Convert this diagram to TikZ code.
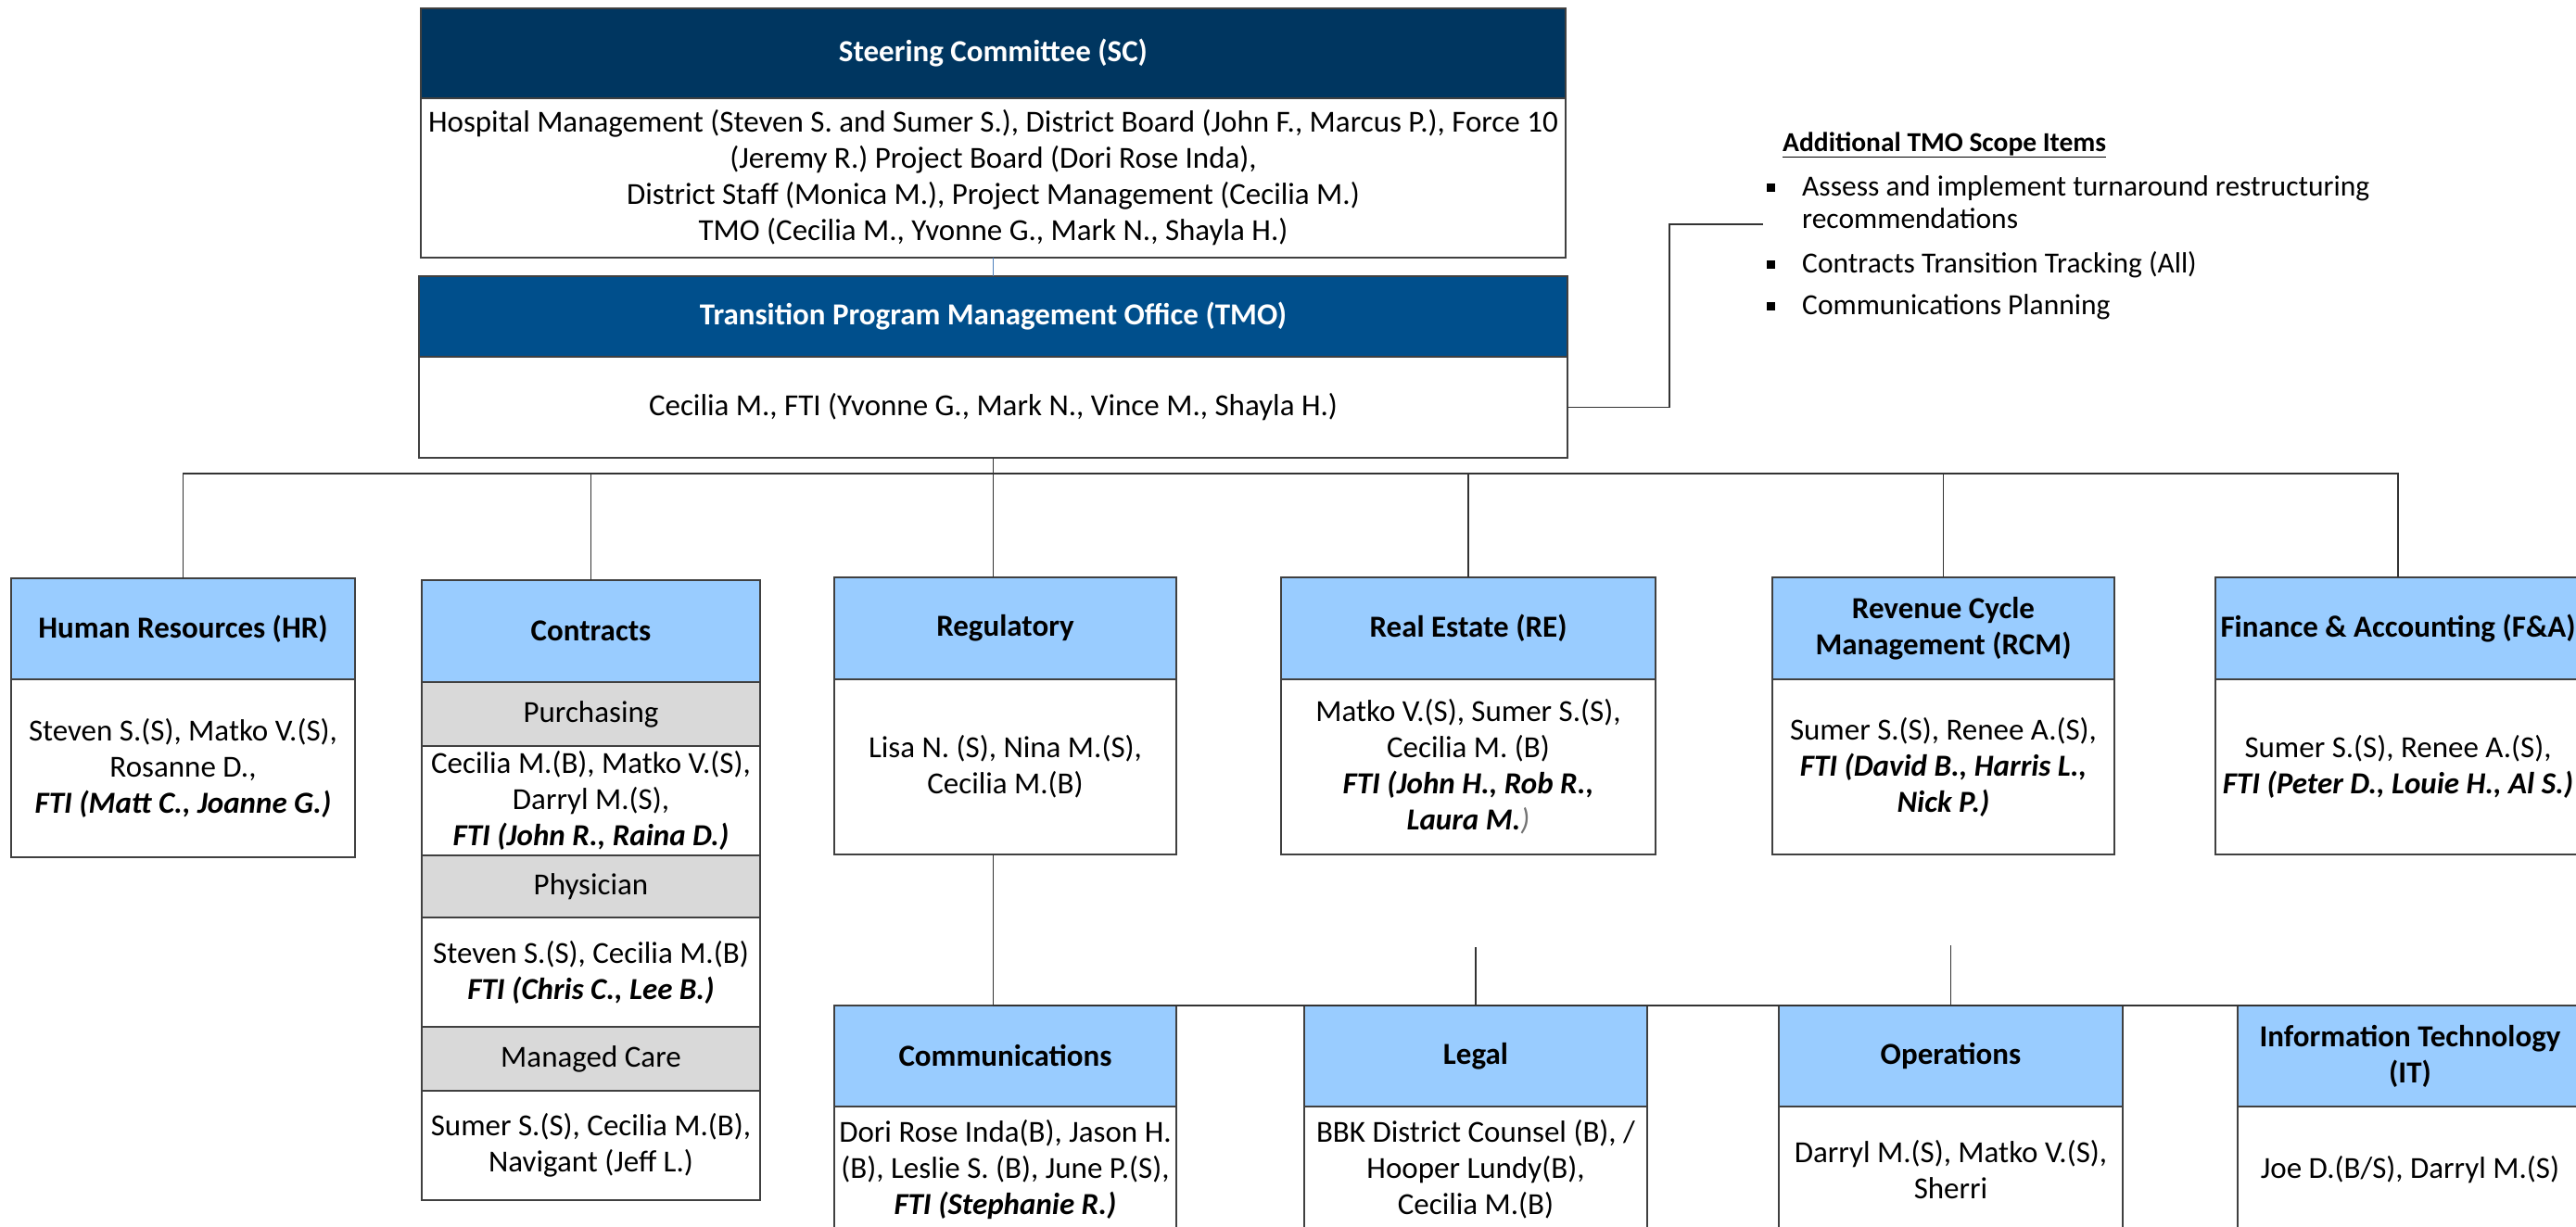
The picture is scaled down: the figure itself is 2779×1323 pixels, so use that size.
\documentclass[tikz,border=0pt]{standalone}
\usepackage{fontspec}
\setmainfont{Carlito}
\usetikzlibrary{positioning}

\definecolor{scnavy}{HTML}{003660}
\definecolor{tmoblue}{HTML}{004F8C}
\definecolor{deptblue}{HTML}{99CCFF}
\definecolor{subgray}{HTML}{D9D9D9}
\definecolor{linkblue}{HTML}{4F81BD}

\newcommand{\fti}[1]{\textbf{\textit{#1}}}
\newcommand{\sqbul}{\makebox[38pt][l]{\rule[4pt]{9pt}{9pt}}}

\begin{document}
\begin{tikzpicture}[x=1pt,y=-1pt,
  orgbox/.style={draw=black!75,line width=1.3pt,outer sep=0pt,inner sep=2pt,
                 align=center,font=\fontsize{33}{39}\selectfont},
  schead/.style={orgbox,fill=scnavy,text=white,font=\fontsize{33}{39}\selectfont\bfseries},
  tmohead/.style={orgbox,fill=tmoblue,text=white,font=\fontsize{33}{39}\selectfont\bfseries},
  depthead/.style={orgbox,fill=deptblue,anchor=north,font=\fontsize{33}{39}\selectfont\bfseries},
  subhead/.style={orgbox,fill=subgray},
  members/.style={orgbox,fill=white},
  link/.style={draw=black!80,line width=1.3pt},
]

\useasboundingbox (0,0) rectangle (2779,1323);
\fill[white] (0,0) rectangle (2779,1323);

% Steering committee
\node[schead,anchor=north west,minimum width=1235,minimum height=97] (sc) at (454,9)
  {Steering Committee (SC)};
\node[members,below=0pt of sc,minimum width=1235,minimum height=172] (scbody)
  {Hospital Management (Steven S. and Sumer S.), District Board (John F., Marcus P.), Force 10\\
   (Jeremy R.) Project Board (Dori Rose Inda),\\
   District Staff (Monica M.), Project Management (Cecilia M.)\\
   TMO (Cecilia M., Yvonne G., Mark N., Shayla H.)};

% TMO
\node[tmohead,anchor=north west,minimum width=1239,minimum height=87] (tmo) at (452,298)
  {Transition Program Management Office (TMO)};
\node[members,below=0pt of tmo,minimum width=1239,minimum height=109] (tmobody)
  {Cecilia M., FTI (Yvonne G., Mark N., Vince M., Shayla H.)};

% Scope items
\node[anchor=west,inner sep=0pt,font=\fontsize{29.5}{35}\selectfont\bfseries] (scope) at (1923,156)
  {\underline{Additional TMO Scope Items}};
\node[anchor=north west,inner sep=0pt,align=left,font=\fontsize{31.5}{35}\selectfont] (scopeitems) at (1906,189)
  {\sqbul Assess and implement turnaround restructuring\\
   \hspace*{38pt}recommendations\\[13pt]
   \sqbul Contracts Transition Tracking (All)\\[10pt]
   \sqbul Communications Planning};
\coordinate (scopetap) at (1902,242);

% Departments, first row
\node[depthead,minimum width=371,minimum height=109] (hr) at (197.5,624) {Human Resources (HR)};
\node[members,below=0pt of hr,minimum width=371,minimum height=192] (hrbody)
  {Steven S.(S), Matko V.(S),\\Rosanne D.,\\\fti{FTI (Matt C., Joanne G.)}};

\node[depthead,minimum width=365,minimum height=110] (contracts) at (637.5,626) {Contracts};
\node[subhead,below=0pt of contracts,minimum width=365,minimum height=69] (purch) {Purchasing};
\node[members,below=0pt of purch,minimum width=365,minimum height=118] (purchbody)
  {Cecilia M.(B), Matko V.(S),\\Darryl M.(S),\\\fti{FTI (John R., Raina D.)}};
\node[subhead,below=0pt of purchbody,minimum width=365,minimum height=67] (phys) {Physician};
\node[members,below=0pt of phys,minimum width=365,minimum height=118] (physbody)
  {Steven S.(S), Cecilia M.(B)\\\fti{FTI (Chris C., Lee B.)}};
\node[subhead,below=0pt of physbody,minimum width=365,minimum height=69] (mc) {Managed Care};
\node[members,below=0pt of mc,minimum width=365,minimum height=118] (mcbody)
  {Sumer S.(S), Cecilia M.(B),\\Navigant (Jeff L.)};

\node[depthead,minimum width=369,minimum height=110] (reg) at (1084.5,623) {Regulatory};
\node[members,below=0pt of reg,minimum width=369,minimum height=189] (regbody)
  {Lisa N. (S), Nina M.(S),\\Cecilia M.(B)};

\node[depthead,minimum width=404,minimum height=110] (re) at (1584,623) {Real Estate (RE)};
\node[members,below=0pt of re,minimum width=404,minimum height=189] (rebody)
  {Matko V.(S), Sumer S.(S),\\Cecilia M. (B)\\\fti{FTI (John H., Rob R.,}\\\fti{Laura M.}\textcolor{black!55}{\textit{)}}};

\node[depthead,minimum width=369,minimum height=110] (rcm) at (2096.5,623) {Revenue Cycle\\Management (RCM)};
\node[members,below=0pt of rcm,minimum width=369,minimum height=189] (rcmbody)
  {Sumer S.(S), Renee A.(S),\\\fti{FTI (David B., Harris L.,}\\\fti{Nick P.)}};

\node[depthead,minimum width=394,minimum height=110] (fa) at (2587,623) {Finance \& Accounting (F\&A)};
\node[members,below=0pt of fa,minimum width=394,minimum height=189] (fabody)
  {Sumer S.(S), Renee A.(S),\\\fti{FTI (Peter D., Louie H., Al S.)}};

% Departments, second row
\node[depthead,minimum width=369,minimum height=109] (comm) at (1084.5,1085) {Communications};
\node[members,below=0pt of comm,minimum width=369,minimum height=136] (commbody)
  {Dori Rose Inda(B), Jason H.\\(B), Leslie S. (B), June P.(S),\\\fti{FTI (Stephanie R.)}};

\node[depthead,minimum width=370,minimum height=109] (legal) at (1592,1085) {Legal};
\node[members,below=0pt of legal,minimum width=370,minimum height=136] (legalbody)
  {BBK District Counsel (B), /\\Hooper Lundy(B),\\Cecilia M.(B)};

\node[depthead,minimum width=371,minimum height=109] (ops) at (2104.5,1085) {Operations};
\node[members,below=0pt of ops,minimum width=371,minimum height=136] (opsbody)
  {Darryl M.(S), Matko V.(S),\\Sherri};

\node[depthead,minimum width=372,minimum height=109] (it) at (2600,1085) {Information Technology\\(IT)};
\node[members,below=0pt of it,minimum width=372,minimum height=136] (itbody)
  {Joe D.(B/S), Darryl M.(S)};

% Connectors
\draw[draw=linkblue,line width=1.3pt] (scbody.south) -- (tmo.north);
\draw[link] (tmobody.east) -- ++(110,0) |- (scopetap);
\draw[link] (tmobody.south) -- (tmobody.south |- reg.north);
\draw[link] (hr.north) -- ++(0,-113) -| (fa.north);
\foreach \d in {contracts,re,rcm}
  \draw[link] (\d.north) -- (\d.north |- 0,511);
\draw[link] (regbody.south -| tmobody.south) -- (comm.north -| tmobody.south) -- (it.north);
\draw[link] (legal.north) -- ++(0,-63);
\draw[link] (ops.north) -- ++(0,-65);

\end{tikzpicture}
\end{document}
